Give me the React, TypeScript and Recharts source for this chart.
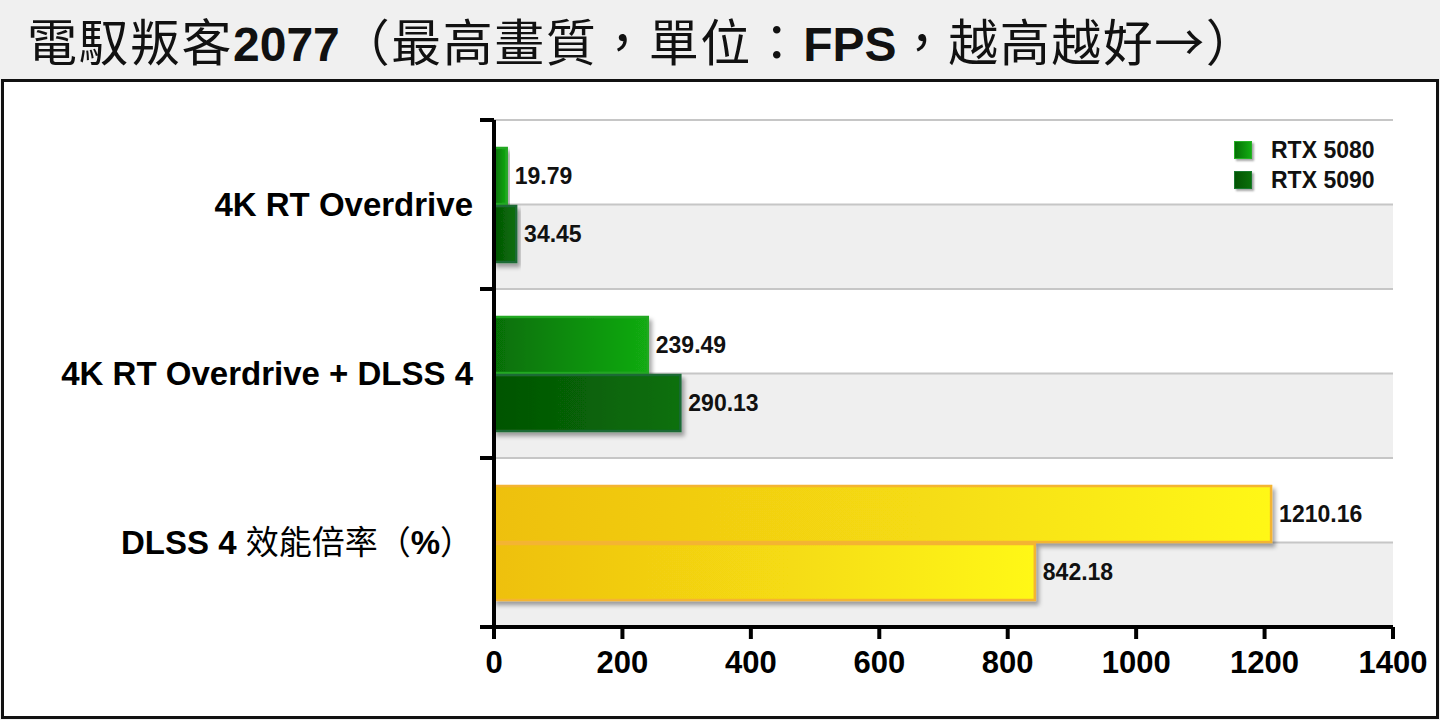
import {
  BarChart,
  Bar,
  XAxis,
  YAxis,
  CartesianGrid,
  LabelList,
  Cell,
  usePlotArea,
} from "recharts";

const categories = [
  "4K RT Overdrive",
  "4K RT Overdrive + DLSS 4",
  "DLSS 4 效能倍率（%）",
];
const rtx5080 = [19.79, 239.49, 1210.16];
const rtx5090 = [34.45, 290.13, 842.18];
const seriesNames = ["RTX 5080", "RTX 5090"];
const xTicks = [0, 200, 400, 600, 800, 1000, 1200, 1400];
const title = "電馭叛客2077（最高畫質，單位：FPS，越高越好→）";

// the ratio row is drawn in yellow instead of the series green
const ratioRow = 2;

const data = categories.map((name, i) => ({
  name,
  rtx5080: rtx5080[i],
  rtx5090: rtx5090[i],
}));

const LATIN = '"Liberation Sans", Arial, sans-serif';
const CJK = '"Noto Sans CJK TC", "Noto Sans CJK SC", sans-serif';
const CJK_RE = /([\u2190-\u21ff\u3000-\u9fff\uff00-\uffef]+)/;

const splitText = (s: string) => s.split(CJK_RE).filter(Boolean);
const isCjk = (s: string) => CJK_RE.test(s);

const seriesStyle = [
  { fill: "url(#g5080)", stroke: "#23a823", css: "linear-gradient(90deg,#067006,#12ac12)", border: "#27b027" },
  { fill: "url(#g5090)", stroke: "#1a6b34", css: "linear-gradient(90deg,#045404,#0a700a)", border: "#1a7a30" },
];

function CategoryTick(props: any) {
  const { x, y, payload } = props;
  return (
    <text x={x} y={y + 11} textAnchor="end" fill="#000">
      {splitText(payload.value).map((part, i) =>
        isCjk(part) ? (
          <tspan key={i} fontFamily={CJK} fontSize={33} fontWeight={400}>
            {part}
          </tspan>
        ) : (
          <tspan key={i} fontFamily={LATIN} fontSize={33} fontWeight={700}>
            {part}
          </tspan>
        )
      )}
    </text>
  );
}

// tick marks on the category axis sit on the band edges
function CategoryEdges() {
  const area = usePlotArea();
  if (!area) return null;
  const n = categories.length;
  return (
    <g>
      {Array.from({ length: n + 1 }, (_, i) => {
        const y = area.y + (area.height * i) / n;
        return (
          <line key={i} x1={area.x - 14} x2={area.x} y1={y} y2={y} stroke="#000" strokeWidth={4} />
        );
      })}
    </g>
  );
}

function ShadowBar(p: any) {
  if (!p.width || p.width <= 0) return null;
  return (
    <rect
      x={p.x}
      y={p.y}
      width={p.width}
      height={p.height}
      fill={p.fill}
      stroke={p.stroke}
      strokeWidth={p.strokeWidth}
      filter="url(#barShadow)"
    />
  );
}

const labelStyle = {
  fontFamily: LATIN,
  fontWeight: 700,
  fontSize: 23,
  fill: "#111",
};

export default function App() {
  return (
    <div
      style={{
        position: "absolute",
        left: 0,
        top: 0,
        width: 1440,
        height: 720,
        background: "#f0f0f0",
        overflow: "hidden",
      }}
    >
      <div
        style={{
          position: "absolute",
          left: 27,
          top: 0,
          height: 80,
          lineHeight: "78px",
          whiteSpace: "nowrap",
          fontFamily: CJK,
          fontSize: 50,
          color: "#111",
        }}
      >
        {splitText(title).map((part, i) =>
          isCjk(part) ? (
            <span key={i} style={{ letterSpacing: 1.5 }}>
              {part}
            </span>
          ) : (
            <span key={i} style={{ fontFamily: LATIN, fontWeight: 700, fontSize: 48 }}>
              {part}
            </span>
          )
        )}
      </div>

      <div
        style={{
          position: "absolute",
          left: 1,
          top: 79,
          width: 1432,
          height: 634,
          border: "3px solid #111",
          background: "#fff",
        }}
      />

      <div style={{ position: "absolute", left: 0, top: 0 }}>
        <BarChart
          width={1440}
          height={720}
          data={data}
          layout="vertical"
          margin={{ top: 120, right: 47, bottom: 33, left: 0 }}
          barCategoryGap={28}
          barGap={2}
        >
          <defs>
            <linearGradient id="g5080" x1="0" y1="0" x2="1" y2="0">
              <stop offset="0" stopColor="#066e06" />
              <stop offset="1" stopColor="#12ab12" />
            </linearGradient>
            <linearGradient id="g5090" x1="0" y1="0" x2="1" y2="0">
              <stop offset="0" stopColor="#045404" />
              <stop offset="1" stopColor="#0a700a" />
            </linearGradient>
            <linearGradient id="gYellow" x1="0" y1="0" x2="1" y2="0">
              <stop offset="0" stopColor="#eec010" />
              <stop offset="0.55" stopColor="#f5dc12" />
              <stop offset="1" stopColor="#fff816" />
            </linearGradient>
            <filter id="barShadow" x="-10%" y="-20%" width="130%" height="160%">
              <feDropShadow dx="3" dy="4" stdDeviation="2" floodColor="#000" floodOpacity="0.35" />
            </filter>
          </defs>
          <CartesianGrid
            vertical={false}
            stroke="#c6c6c6"
            strokeWidth={2}
            horizontalFill={["#ffffff", "#efefef"]}
            horizontalCoordinatesGenerator={({ offset }: any) =>
              Array.from(
                { length: categories.length * 2 },
                (_, i) => offset.top + (offset.height * i) / (categories.length * 2)
              )
            }
          />
          <XAxis
            type="number"
            domain={[0, 1400]}
            ticks={xTicks}
            interval={0}
            height={60}
            axisLine={{ stroke: "#000", strokeWidth: 4 }}
            tickLine={{ stroke: "#000", strokeWidth: 4 }}
            tickSize={12}
            tickMargin={12}
            tick={{ fill: "#000", fontSize: 31, fontWeight: 700, fontFamily: LATIN }}
          />
          <YAxis
            type="category"
            dataKey="name"
            width={494}
            axisLine={{ stroke: "#000", strokeWidth: 4 }}
            tickLine={false}
            tickSize={0}
            tickMargin={21}
            tick={<CategoryTick />}
            interval={0}
          />
          {(["rtx5080", "rtx5090"] as const).map((key, s) => (
            <Bar
              key={key}
              dataKey={key}
              name={seriesNames[s]}
              fill={seriesStyle[s].fill}
              stroke={seriesStyle[s].stroke}
              strokeWidth={2.5}
              shape={ShadowBar}
              isAnimationActive={false}
            >
              {data.map((_, i) => (
                <Cell
                  key={i}
                  fill={i === ratioRow ? "url(#gYellow)" : seriesStyle[s].fill}
                  stroke={i === ratioRow ? "#f4b432" : seriesStyle[s].stroke}
                />
              ))}
              <LabelList
                dataKey={key}
                position="right"
                offset={8}
                formatter={(v: any) => Number(v).toFixed(2)}
                style={labelStyle}
              />
            </Bar>
          ))}
          <CategoryEdges />
        </BarChart>
      </div>

      <div style={{ position: "absolute", left: 1234, top: 135 }}>
        {seriesNames.map((name, s) => (
          <div
            key={name}
            style={{ display: "flex", alignItems: "center", height: 30 }}
          >
            <div
              style={{
                width: 16,
                height: 16,
                background: seriesStyle[s].css,
                border: `1.5px solid ${seriesStyle[s].border}`,
                boxShadow: "2px 2px 2px rgba(0,0,0,0.35)",
              }}
            />
            <span
              style={{
                marginLeft: 19,
                fontFamily: LATIN,
                fontWeight: 700,
                fontSize: 23,
                color: "#111",
              }}
            >
              {name}
            </span>
          </div>
        ))}
      </div>
    </div>
  );
}
